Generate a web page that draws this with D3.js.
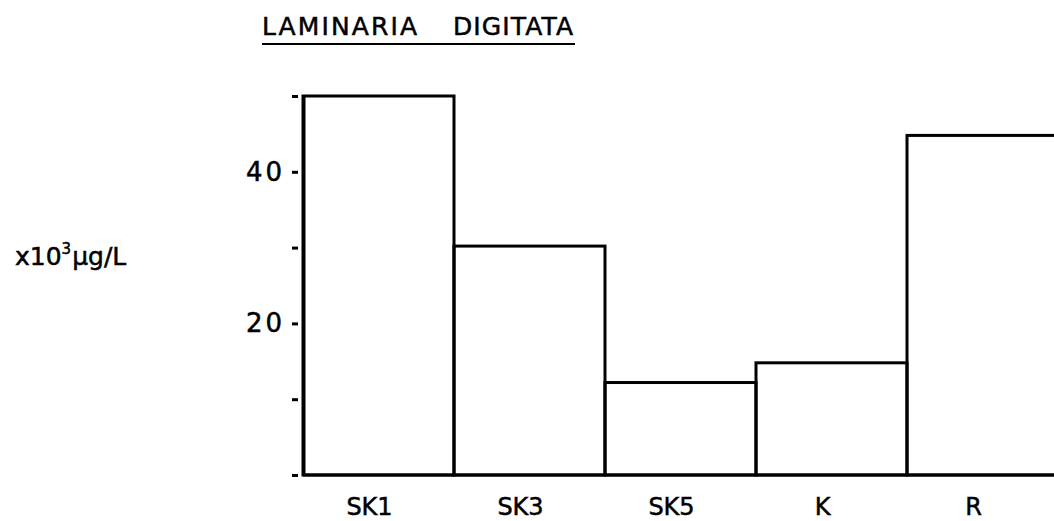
<!DOCTYPE html>
<html>
<head>
<meta charset="utf-8">
<script src="https://cdn.jsdelivr.net/npm/d3@7"></script>
<style>
  html, body { margin: 0; padding: 0; background: #fff; }
  svg { display: block; }
  text { font-family: "DejaVu Sans", "Liberation Sans", sans-serif; fill: #000; stroke: #000; stroke-width: 0.5px; }
</style>
</head>
<body>
<svg id="chart" width="1054" height="521"></svg>
<script>
// Sampling stations and measured concentration (x10^3 µg/L)
const stations = ["SK1", "SK3", "SK5", "K", "R"];
const concentration = [50.0, 30.2, 12.2, 14.8, 44.8];
const tickValues = [0, 10, 20, 30, 40, 50];
const labelledTicks = [20, 40];
const titleWords = ["LAMINARIA", "DIGITATA"];

const svg = d3.select("#chart");
svg.append("rect").attr("width", 1054).attr("height", 521).attr("fill", "#fff");

const x = d3.scaleBand().domain(stations).range([303, 1058]).padding(0);
const y = d3.scaleLinear().domain([0, 50]).range([475, 96]);

// Title, two spaced words with an underline
svg.append("text")
  .attr("x", 262).attr("y", 35)
  .attr("font-size", 25)
  .attr("textLength", 155).attr("lengthAdjust", "spacing")
  .text(titleWords[0]);
svg.append("text")
  .attr("x", 453).attr("y", 35)
  .attr("font-size", 25)
  .attr("textLength", 120).attr("lengthAdjust", "spacing")
  .text(titleWords[1]);
svg.append("line")
  .attr("x1", 262).attr("x2", 575).attr("y1", 44).attr("y2", 44)
  .attr("stroke", "#000").attr("stroke-width", 2);

// Unit label
const unit = svg.append("text").attr("x", 15).attr("y", 265).attr("font-size", 25);
unit.append("tspan").text("x10");
unit.append("tspan").attr("font-size", 15).attr("dy", -11).text("3");
unit.append("tspan").attr("dy", 11).attr("dx", 1).text("µg/L");

// Bars drawn as open outlines
const bars = svg.append("g");
stations.forEach((s, i) => {
  bars.append("rect")
    .attr("x", x(s))
    .attr("y", y(concentration[i]))
    .attr("width", x.bandwidth())
    .attr("height", y(0) - y(concentration[i]))
    .attr("fill", "none")
    .attr("stroke", "#000")
    .attr("stroke-width", 3);
});

// Baseline across the plot
svg.append("line")
  .attr("x1", 303).attr("x2", 1054)
  .attr("y1", y(0)).attr("y2", y(0))
  .attr("stroke", "#000").attr("stroke-width", 3);

// Y axis: short detached tick dashes, labels only on 20 and 40
const yAxis = d3.axisLeft(y)
  .tickValues(tickValues)
  .tickSize(0)
  .tickPadding(0)
  .tickFormat(d => labelledTicks.includes(d) ? d : "");
const ga = svg.append("g").attr("transform", "translate(304,0)").call(yAxis);
ga.select(".domain")
  .attr("d", `M0,${y(50)}V${y(0)}`)
  .attr("stroke", "#000").attr("stroke-width", 3);
ga.selectAll(".tick").append("line")
  .attr("x1", -12).attr("x2", -6)
  .attr("stroke", "#000").attr("stroke-width", 3);
ga.selectAll(".tick text")
  .attr("x", -19)
  .attr("font-size", 26)
  .attr("letter-spacing", 3)
  .attr("font-family", "DejaVu Sans, sans-serif")
  .attr("fill", "#000");

// Station labels
const xAxis = d3.axisBottom(x).tickSize(0).tickPadding(0);
const gx = svg.append("g").attr("transform", `translate(0,${y(0)})`).call(xAxis);
gx.select(".domain").remove();
gx.selectAll(".tick text")
  .attr("y", 40)
  .attr("dy", 0)
  .attr("dx", -9)
  .attr("font-size", 24)
  .attr("font-family", "DejaVu Sans, sans-serif")
  .attr("fill", "#000");
</script>
</body>
</html>
